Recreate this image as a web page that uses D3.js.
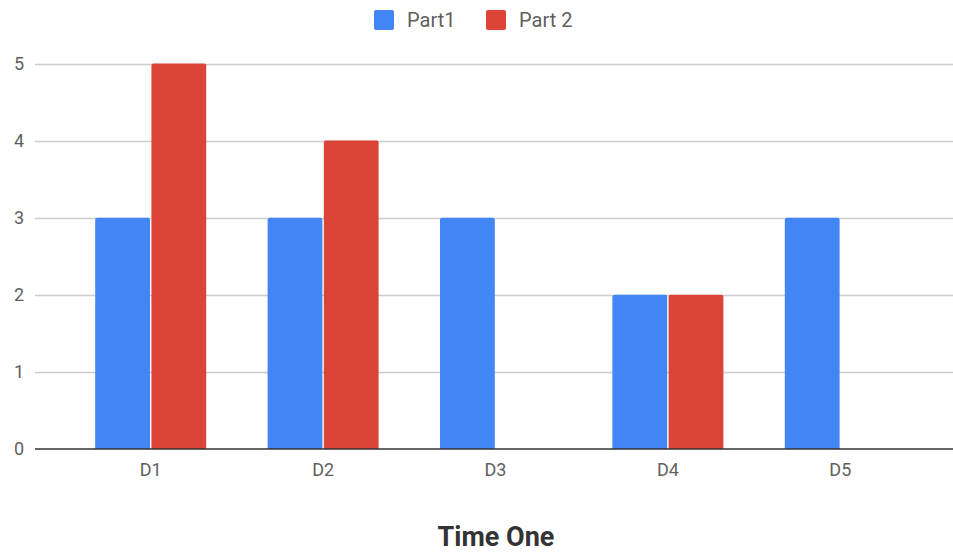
<!DOCTYPE html>
<html>
<head>
<meta charset="utf-8">
<script src="https://cdn.jsdelivr.net/npm/d3@7"></script>
<style>
  html, body { margin: 0; padding: 0; background: #fff; }
  svg { display: block; }
  text { font-family: Roboto, "Noto Sans", Arial, sans-serif; }
</style>
</head>
<body>
<svg id="chart" width="953" height="556"></svg>
<script>
// Categories along the x axis
const categories = ["D1", "D2", "D3", "D4", "D5"];
// Series names and their values per category
const seriesNames = ["Part1", "Part 2"];
const part1 = [3, 3, 3, 2, 3];
const part2 = [5, 4, 0, 2, 0];
const seriesColors = ["#4285f4", "#db4437"];
// Y axis ticks
const yTicks = [0, 1, 2, 3, 4, 5];
const xTitle = "Time One";

const svg = d3.select("#chart");
const gridLeft = 35, gridRight = 953;
const yZero = 449, yTop = 63.5;

const x = d3.scaleBand().domain(categories).range([64.5, 926.5]).paddingInner(0).paddingOuter(0);
const y = d3.scaleLinear().domain([0, 5]).range([yZero, yTop]);
const groupWidth = 111;
const x1 = d3.scaleBand().domain(seriesNames).range([0, groupWidth]).paddingInner(0.025);

// Horizontal gridlines
svg.append("g").selectAll("line")
  .data(yTicks.filter(d => d > 0))
  .join("line")
  .attr("x1", gridLeft).attr("x2", gridRight)
  .attr("y1", d => Math.round(y(d)) + 0.5).attr("y2", d => Math.round(y(d)) + 0.5)
  .attr("stroke", "#cccccc").attr("stroke-width", 1.3);

// Y tick labels
svg.append("g").selectAll("text")
  .data(yTicks)
  .join("text")
  .attr("x", 24).attr("y", d => y(d))
  .attr("dy", "0.36em")
  .attr("text-anchor", "end")
  .attr("font-size", 18)
  .attr("fill", "#5f5f5f")
  .text(d => d);

// Bars
const rows = categories.map((c, i) => ({ cat: c, vals: [part1[i], part2[i]] }));
const groups = svg.append("g").selectAll("g")
  .data(rows)
  .join("g")
  .attr("transform", d => `translate(${x(d.cat) + x.bandwidth() / 2 - groupWidth / 2},0)`);

groups.selectAll("path")
  .data(d => d.vals.map((v, k) => ({ name: seriesNames[k], v, k })).filter(e => e.v > 0))
  .join("path")
  .attr("fill", e => seriesColors[e.k])
  .attr("d", e => {
    const bx = x1(e.name), bw = x1.bandwidth();
    const top = y(e.v), bot = y(0), r = 2;
    return `M${bx},${bot}V${top + r}Q${bx},${top} ${bx + r},${top}H${bx + bw - r}Q${bx + bw},${top} ${bx + bw},${top + r}V${bot}Z`;
  });

// Baseline
svg.append("line")
  .attr("x1", gridLeft).attr("x2", gridRight)
  .attr("y1", yZero).attr("y2", yZero)
  .attr("stroke", "#333333").attr("stroke-width", 1.6);

// X category labels
svg.append("g").selectAll("text")
  .data(categories)
  .join("text")
  .attr("x", d => x(d) + x.bandwidth() / 2)
  .attr("y", 470)
  .attr("dy", "0.36em")
  .attr("text-anchor", "middle")
  .attr("font-size", 18)
  .attr("fill", "#5f5f5f")
  .text(d => d);

// X axis title
svg.append("text")
  .attr("x", 496).attr("y", 536)
  .attr("dy", "0.36em")
  .attr("text-anchor", "middle")
  .attr("font-size", 27)
  .attr("font-weight", "bold")
  .attr("fill", "#333333")
  .text(xTitle);

// Legend
const legendItems = [
  { name: seriesNames[0], color: seriesColors[0], x: 374 },
  { name: seriesNames[1], color: seriesColors[1], x: 486 }
];
const lg = svg.append("g").selectAll("g").data(legendItems).join("g")
  .attr("transform", d => `translate(${d.x},10)`);
lg.append("rect").attr("width", 20).attr("height", 20).attr("rx", 2)
  .attr("fill", d => d.color);
lg.append("text").attr("x", 33).attr("y", 10).attr("dy", "0.36em")
  .attr("font-size", 20).attr("fill", "#5f5f5f")
  .text(d => d.name);
</script>
</body>
</html>
